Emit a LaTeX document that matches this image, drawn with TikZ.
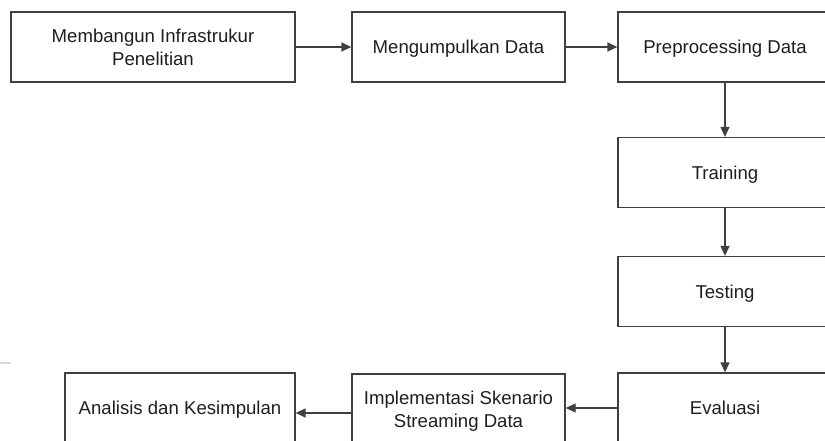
\documentclass[tikz,border=0pt]{standalone}
\usepackage{fontspec}
\setmainfont{Liberation Sans}
\usetikzlibrary{arrows.meta}
\definecolor{edge}{HTML}{404040}
\definecolor{ink}{HTML}{1E1E1E}
\definecolor{rule}{HTML}{DADADA}
\begin{document}
\begin{tikzpicture}[x=1pt,y=-1pt,
  stepbox/.style={draw=edge, line width=1.3pt, fill=white, text=ink,
    minimum width=213pt, minimum height=70pt, inner sep=0pt,
    align=center, font=\fontsize{18.6}{22.7}\selectfont, text depth=0pt},
  oneline/.style={text height=13.6pt},
  flow/.style={draw=edge, line width=1.3pt, -{Triangle[length=10pt,width=9pt]}}]
  \useasboundingbox[fill=white] (0,0) rectangle (825,441);
  % short page rule at the left edge
  \draw[rule, line width=2pt] (0,363) -- (11,363);
  % top row
  \node[stepbox, minimum width=284pt] (infra) at (153,47) {Membangun Infrastrukur\\Penelitian};
  \node[stepbox, oneline] (collect) at (458.5,47) {Mengumpulkan Data};
  \node[stepbox, oneline, minimum width=214pt] (prep) at (725,47) {Preprocessing Data};
  % right column
  \node[stepbox, oneline, minimum width=214pt] (train) at (725,172.5) {Training};
  \node[stepbox, oneline, minimum width=214pt] (test) at (725,291.5) {Testing};
  \node[stepbox, oneline, minimum width=214pt] (eval) at (725,408) {Evaluasi};
  % bottom row
  \node[stepbox] (impl) at (458.5,409) {Implementasi Skenario\\Streaming Data};
  \node[stepbox, oneline, minimum width=230pt] (concl) at (180,408) {Analisis dan Kesimpulan};
  % connectors
  \draw[flow] (infra) -- (collect);
  \draw[flow] (collect) -- (prep);
  \draw[flow] (prep) -- (train);
  \draw[flow] (train) -- (test);
  \draw[flow] (test) -- (eval);
  \draw[flow] (eval.west) -- (impl.east |- eval.west);
  \coordinate (implout) at ([yshift=-4pt]impl.west);
  \draw[flow] (implout) -- (concl.east |- implout);
\end{tikzpicture}
\end{document}
